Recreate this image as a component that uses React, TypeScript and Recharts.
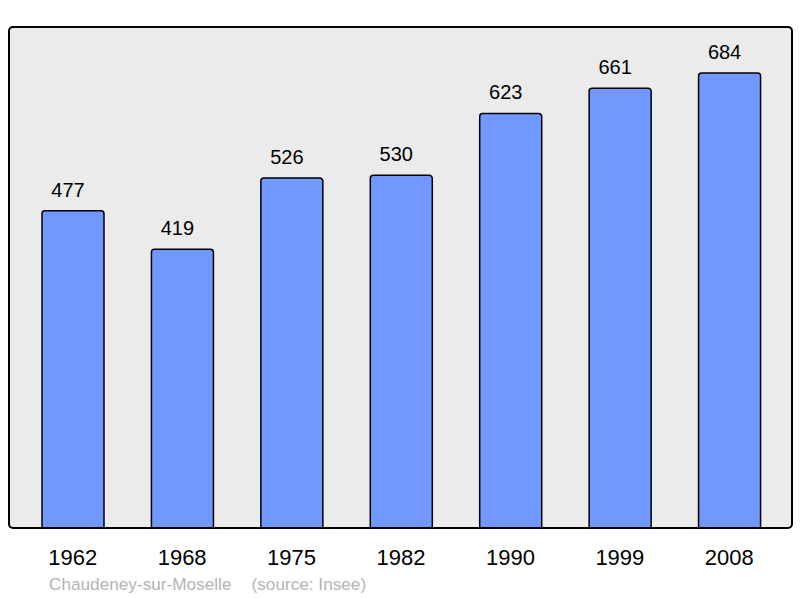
import { BarChart, Bar, XAxis, YAxis, CartesianGrid, LabelList } from 'recharts';

const years = ['1962', '1968', '1975', '1982', '1990', '1999', '2008'];
const population = [477, 419, 526, 530, 623, 661, 684];

const chartData = years.map((year, i) => ({ year, population: population[i] }));

const FONT = '"Liberation Sans", Arial, sans-serif';

export default function App() {
  return (
    <div style={{ position: 'absolute', left: 0, top: 0, width: 800, height: 598, background: '#fff' }}>
      <BarChart
        width={800}
        height={598}
        data={chartData}
        margin={{ top: 27, right: 8, left: 9, bottom: 40 }}
      >
        <CartesianGrid fill="#ebebeb" horizontal={false} vertical={false} />
        <XAxis
          dataKey="year"
          height={30}
          padding={{ left: 9, right: 8 }}
          axisLine={false}
          tickLine={false}
          tickSize={0}
          tickMargin={21}
          tick={{ fontSize: 22, fill: '#000', fontFamily: FONT }}
          interval={0}
        />
        <YAxis hide domain={[0, 753]} />
        <Bar
          dataKey="population"
          fill="#7098ff"
          stroke="#000"
          strokeWidth={1.5}
          barSize={62}
          radius={[3, 3, 0, 0]}
          isAnimationActive={false}
        >
          <LabelList
            dataKey="population"
            position="top"
            offset={14}
            dx={-5}
            style={{ fontSize: 20, fill: '#000', fontFamily: FONT }}
          />
        </Bar>
      </BarChart>
      {/* plot frame and source line drawn over the chart */}
      <svg
        width={800}
        height={598}
        style={{ position: 'absolute', left: 0, top: 0, pointerEvents: 'none' }}
      >
        <rect x={9} y={27} width={783} height={501} rx={4} fill="none" stroke="#000" strokeWidth={2} />
        <text x={49} y={590} fontSize={17.2} fill="#b4b4b4" fontFamily={FONT}>Chaudeney-sur-Moselle</text>
        <text x={251.5} y={590} fontSize={17.2} fill="#b4b4b4" fontFamily={FONT}>(source: Insee)</text>
      </svg>
    </div>
  );
}
